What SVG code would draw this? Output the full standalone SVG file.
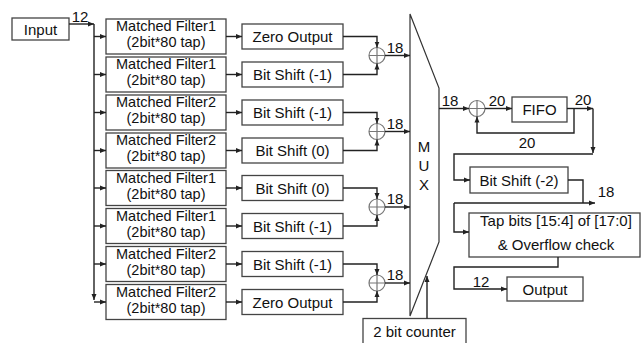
<svg xmlns="http://www.w3.org/2000/svg" width="641" height="343" viewBox="0 0 641 343">
<defs>
<marker id="ah" viewBox="0 0 6 6" refX="6" refY="3" markerWidth="6" markerHeight="6" orient="auto" markerUnits="userSpaceOnUse"><path d="M0,0.5 L6,3 L0,5.5 z" fill="#222"/></marker>
<style>
text{font-family:"Liberation Sans",Arial,sans-serif;font-size:15px;fill:#111;text-anchor:middle}
.mf text{font-size:14.5px}
.box{fill:#fff;stroke:#444;stroke-width:1.3}
.ln{fill:none;stroke:#222;stroke-width:1.4}
.ar{fill:none;stroke:#222;stroke-width:1.4;marker-end:url(#ah)}
.add{fill:none;stroke:#777;stroke-width:1.2}
.mux{fill:none;stroke:#333;stroke-width:1.2}
</style>
</defs>
<rect width="641" height="343" fill="#fff"/>
<g id="input"><rect class="box" x="12" y="18" width="57" height="22"/><text x="40.5" y="35">Input</text></g>
<g id="mf1" class="mf"><rect class="box" x="106" y="19" width="120" height="35"/><text x="166" y="31">Matched Filter1</text><text x="166" y="47">(2bit*80 tap)</text></g>
<g id="mf2" class="mf"><rect class="box" x="106" y="57" width="120" height="35"/><text x="166" y="69">Matched Filter1</text><text x="166" y="85">(2bit*80 tap)</text></g>
<g id="mf3" class="mf"><rect class="box" x="106" y="95" width="120" height="35"/><text x="166" y="107">Matched Filter2</text><text x="166" y="123">(2bit*80 tap)</text></g>
<g id="mf4" class="mf"><rect class="box" x="106" y="133" width="120" height="35"/><text x="166" y="145">Matched Filter2</text><text x="166" y="161">(2bit*80 tap)</text></g>
<g id="mf5" class="mf"><rect class="box" x="106" y="170.5" width="120" height="35"/><text x="166" y="182.5">Matched Filter1</text><text x="166" y="198.5">(2bit*80 tap)</text></g>
<g id="mf6" class="mf"><rect class="box" x="106" y="208.5" width="120" height="35"/><text x="166" y="220.5">Matched Filter1</text><text x="166" y="236.5">(2bit*80 tap)</text></g>
<g id="mf7" class="mf"><rect class="box" x="106" y="246.5" width="120" height="35"/><text x="166" y="258.5">Matched Filter2</text><text x="166" y="274.5">(2bit*80 tap)</text></g>
<g id="mf8" class="mf"><rect class="box" x="106" y="284.5" width="120" height="35"/><text x="166" y="296.5">Matched Filter2</text><text x="166" y="312.5">(2bit*80 tap)</text></g>
<g id="op1"><rect class="box" x="242" y="24" width="101" height="25"/><text x="292.5" y="42">Zero Output</text></g>
<g id="op2"><rect class="box" x="242" y="62" width="101" height="25"/><text x="292.5" y="80">Bit Shift (-1)</text></g>
<g id="op3"><rect class="box" x="242" y="100" width="101" height="25"/><text x="292.5" y="118">Bit Shift (-1)</text></g>
<g id="op4"><rect class="box" x="242" y="138" width="101" height="25"/><text x="292.5" y="156">Bit Shift (0)</text></g>
<g id="op5"><rect class="box" x="242" y="175.5" width="101" height="25"/><text x="292.5" y="193.5">Bit Shift (0)</text></g>
<g id="op6"><rect class="box" x="242" y="213.5" width="101" height="25"/><text x="292.5" y="231.5">Bit Shift (-1)</text></g>
<g id="op7"><rect class="box" x="242" y="251.5" width="101" height="25"/><text x="292.5" y="269.5">Bit Shift (-1)</text></g>
<g id="op8"><rect class="box" x="242" y="289.5" width="101" height="25"/><text x="292.5" y="307.5">Zero Output</text></g>
<g id="add1"><circle class="add" cx="377" cy="55.5" r="8"/><path class="add" d="M369,55.5H385M377,47.5V63.5"/></g>
<g id="add2"><circle class="add" cx="377" cy="131.5" r="8"/><path class="add" d="M369,131.5H385M377,123.5V139.5"/></g>
<g id="add3"><circle class="add" cx="377" cy="207" r="8"/><path class="add" d="M369,207H385M377,199V215"/></g>
<g id="add4"><circle class="add" cx="377" cy="283" r="8"/><path class="add" d="M369,283H385M377,275V291"/></g>
<g id="mux"><path class="mux" d="M410,14L439,88V242L410,316Z"/><text x="424" y="152">M</text><text x="424" y="171">U</text><text x="424" y="190">X</text></g>
<g id="counter"><rect class="box" x="363" y="318.5" width="103" height="26"/><text x="414.5" y="337">2 bit counter</text></g>
<g id="add5"><circle class="add" cx="477" cy="108.5" r="8"/><path class="add" d="M469,108.5H485M477,100.5V116.5"/></g>
<g id="fifo"><rect class="box" x="512" y="97" width="55" height="25"/><text x="539.5" y="115">FIFO</text></g>
<g id="bs2"><rect class="box" x="470" y="167" width="98" height="26"/><text x="519" y="185.5">Bit Shift (-2)</text></g>
<g id="tap"><rect class="box" x="469" y="213" width="171" height="44"/><text x="556" y="225.5">Tap bits [15:4] of [17:0]</text><text x="556" y="250">&amp; Overflow check</text></g>
<g id="output"><rect class="box" x="507" y="277" width="76" height="24"/><text x="545" y="295">Output</text></g>
<g id="connectors">
<path class="ar" d="M69,24H94"/>
<path class="ar" d="M94,24V300"/>
<path class="ar" d="M94,36.5H106"/>
<path class="ar" d="M94,74.5H106"/>
<path class="ar" d="M94,112.5H106"/>
<path class="ar" d="M94,150.5H106"/>
<path class="ar" d="M94,188H106"/>
<path class="ar" d="M94,226H106"/>
<path class="ar" d="M94,264H106"/>
<path class="ar" d="M94,302H106"/>
<path class="ar" d="M226,36.5H242"/>
<path class="ar" d="M226,74.5H242"/>
<path class="ar" d="M226,112.5H242"/>
<path class="ar" d="M226,150.5H242"/>
<path class="ar" d="M226,188H242"/>
<path class="ar" d="M226,226H242"/>
<path class="ar" d="M226,264H242"/>
<path class="ar" d="M226,302H242"/>
<path class="ar" d="M343,36.5H377V47.5"/>
<path class="ar" d="M343,74.5H377V63.5"/>
<path class="ar" d="M343,112.5H377V123.5"/>
<path class="ar" d="M343,150.5H377V139.5"/>
<path class="ar" d="M343,188H377V199"/>
<path class="ar" d="M343,226H377V215"/>
<path class="ar" d="M343,264H377V275"/>
<path class="ar" d="M343,302H377V291"/>
<path class="ar" d="M385,55.5H410"/>
<path class="ar" d="M385,131.5H410"/>
<path class="ar" d="M385,207H410"/>
<path class="ar" d="M385,283H410"/>
<path class="ar" d="M427,318.5V276"/>
<path class="ar" d="M439,108.5H469"/>
<path class="ar" d="M485,108.5H512"/>
<path class="ar" d="M567,108.5H593"/>
<path class="ar" d="M593,108.5V153"/>
<path class="ar" d="M574,108.5V133H477V116.5"/>
<path class="ar" d="M593,154H454V180H470"/>
<path class="ln" d="M568,180H583V203"/>
<path class="ar" d="M454,203H595"/>
<path class="ar" d="M454,203V232H469"/>
<path class="ar" d="M558,257V267H454V289H507"/>
<text x="80" y="22">12</text>
<text x="395" y="52.5">18</text>
<text x="395" y="128.5">18</text>
<text x="395" y="204">18</text>
<text x="395" y="280">18</text>
<text x="450" y="105.5">18</text>
<text x="497" y="105.5">20</text>
<text x="583" y="105">20</text>
<text x="527" y="148">20</text>
<text x="606" y="197">18</text>
<text x="481" y="287">12</text>
</g>
</svg>
